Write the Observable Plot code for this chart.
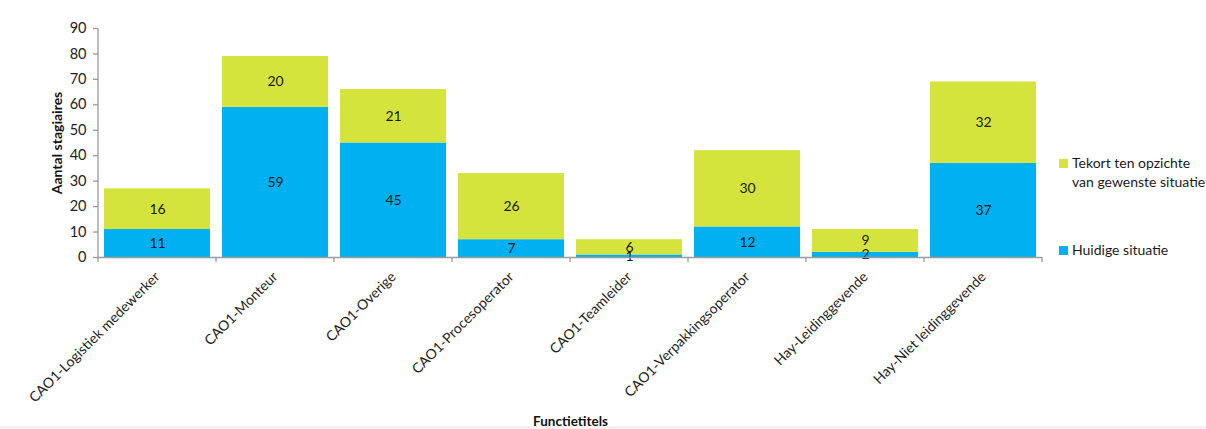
<!DOCTYPE html>
<html>
<head>
<meta charset="utf-8">
<script src="https://cdn.jsdelivr.net/npm/d3@7"></script>
<script src="https://cdn.jsdelivr.net/npm/@observablehq/plot@0.6"></script>
<style>
  html, body { margin: 0; padding: 0; background: #fff; }
  body { width: 1206px; height: 429px; position: relative; overflow: hidden; font-family: Lato, "Liberation Sans", sans-serif; }
  #chart { position: absolute; left: 0; top: 0; }
  .legend { position: absolute; left: 1059px; font-size: 14px; color: #1a1a1a; line-height: 19px; white-space: nowrap; }
  .legend .sw { position: absolute; left: 0; width: 9px; height: 9px; }
  .legend .tx { position: absolute; left: 13px; }
  #bottomstrip { position: absolute; left: 0; top: 426px; width: 1206px; height: 3px; background: #f3f3f3; }
</style>
</head>
<body>
<div id="chart"></div>
<div class="legend" id="legend"></div>
<div id="bottomstrip"></div>
<script>
const categories = [
  "CAO1-Logistiek medewerker",
  "CAO1-Monteur",
  "CAO1-Overige",
  "CAO1-Procesoperator",
  "CAO1-Teamleider",
  "CAO1-Verpakkingsoperator",
  "Hay-Leidinggevende",
  "Hay-Niet leidinggevende"
];
const seriesNames = ["Huidige situatie", "Tekort ten opzichte van gewenste situatie"];
const huidige = [11, 59, 45, 7, 1, 12, 2, 37];
const tekort = [16, 20, 21, 26, 6, 30, 9, 32];
const colors = ["#00b0f0", "#d5e43c"];
const yTicks = [0, 10, 20, 30, 40, 50, 60, 70, 80, 90];

const data = [];
categories.forEach((c, i) => {
  data.push({cat: c, series: seriesNames[0], value: huidige[i]});
  data.push({cat: c, series: seriesNames[1], value: tekort[i]});
});

const axisColor = "#9a9a9a";
const font = "Lato, 'Liberation Sans', sans-serif";

// y axis line and band-boundary ticks below the x axis (Excel style)
function axisLines(index, scales, values, dimensions) {
  const x = scales.x;
  const y = scales.y;
  const y0 = y(0);
  const yTop = y(90);
  const step = x.step();
  const inner = step - x.bandwidth();
  const g = d3.create("svg:g");
  const xs = categories.map(c => x(c) - inner / 2);
  xs.push(x(categories[categories.length - 1]) + x.bandwidth() + inner / 2);
  g.append("line").attr("x1", xs[0]).attr("x2", xs[0]).attr("y1", yTop).attr("y2", y0)
    .attr("stroke", axisColor).attr("stroke-width", 1.3);
  for (const xv of xs) {
    g.append("line").attr("x1", xv).attr("x2", xv).attr("y1", y0).attr("y2", y0 + 5)
      .attr("stroke", axisColor).attr("stroke-width", 1.3);
  }
  return g.node();
}

const chart = Plot.plot({
  width: 1206,
  height: 429,
  marginLeft: 98,
  marginRight: 164,
  marginTop: 28,
  marginBottom: 172,
  style: {fontFamily: font, fontSize: "13px", color: "#222", background: "transparent"},
  x: {domain: categories, paddingInner: 0.1, paddingOuter: 0.05},
  y: {domain: [0, 90]},
  color: {domain: seriesNames, range: colors},
  marks: [
    Plot.barY(data, Plot.stackY({x: "cat", y: "value", fill: "series", order: seriesNames})),
    Plot.text(data, Plot.stackY({x: "cat", y: "value", z: "series", order: seriesNames, text: d => String(d.value), fill: "#1a1a1a", fontSize: 14})),
    Plot.axisY({ticks: yTicks, tickSize: 5, tickPadding: 7, label: null, stroke: axisColor, strokeWidth: 1.3, fontSize: 14.5, fill: "#222"}),
    Plot.ruleY([0], {stroke: axisColor, strokeWidth: 1.3}),
    Plot.axisX({tickSize: 0, tickPadding: 17, tickRotate: -45, label: null, fontSize: 14, fill: "#222"}),
    axisLines,
    Plot.text(["Functietitels"], {frameAnchor: "bottom", dy: 168, fontWeight: "bold", fontSize: 13.5, fill: "#111"}),
    Plot.text(["Aantal stagiaires"], {frameAnchor: "left", textAnchor: "middle", rotate: -90, dx: -41, fontWeight: "bold", fontSize: 14, fill: "#111"})
  ]
});
document.getElementById("chart").appendChild(chart);

// legend on the right
const legend = document.getElementById("legend");
legend.style.top = "0px";
const items = [
  {color: colors[1], top: 153, lines: ["Tekort ten opzichte", "van gewenste situatie"]},
  {color: colors[0], top: 240, lines: [seriesNames[0]]}
];
for (const it of items) {
  const sw = document.createElement("div");
  sw.className = "sw";
  sw.style.background = it.color;
  sw.style.top = (it.top + 6) + "px";
  legend.appendChild(sw);
  const tx = document.createElement("div");
  tx.className = "tx";
  tx.style.top = it.top + "px";
  tx.innerHTML = it.lines.join("<br>");
  legend.appendChild(tx);
}
</script>
</body>
</html>
